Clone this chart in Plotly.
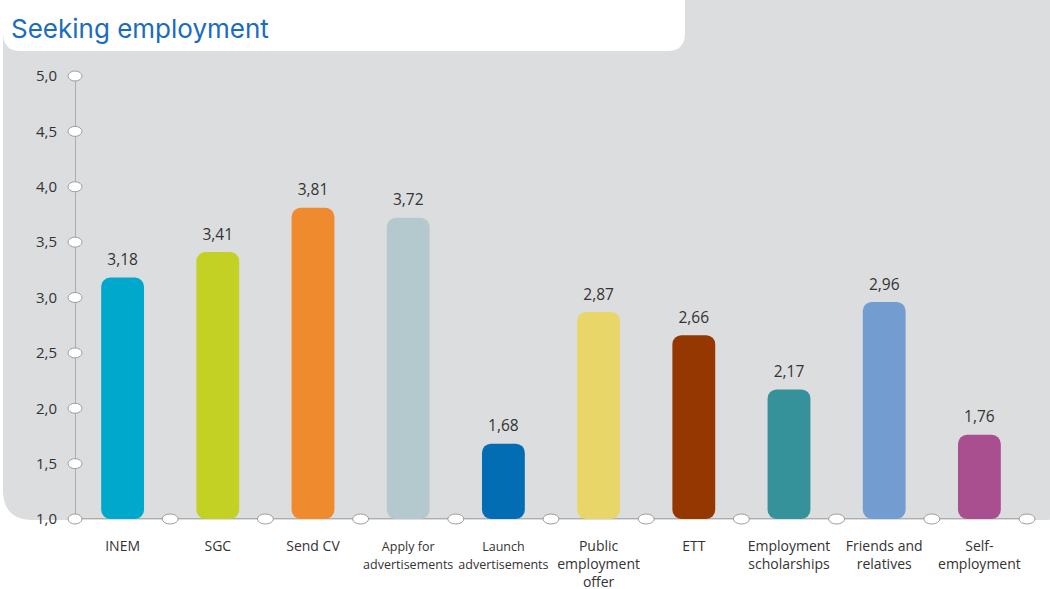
import plotly.graph_objects as go

categories = ["INEM", "SGC", "Send CV", "Apply for advertisements", "Launch advertisements",
              "Public employment offer", "ETT", "Employment scholarships",
              "Friends and relatives", "Self-employment"]
tick_labels = ["INEM", "SGC", "Send CV",
               "<span style='font-size:12.5px'>Apply for<br>advertisements</span>",
               "<span style='font-size:12.5px'>Launch<br>advertisements</span>",
               "Public<br>employment<br>offer", "ETT", "Employment<br>scholarships",
               "Friends and<br>relatives", "Self-<br>employment"]
values = [3.18, 3.41, 3.81, 3.72, 1.68, 2.87, 2.66, 2.17, 2.96, 1.76]
colors = ["#00a9cc", "#c3d124", "#ef8a2f", "#b4c9ce", "#036db4",
          "#e8d669", "#943700", "#35929a", "#739cd1", "#a94e8e"]
y_ticks = [1.0, 1.5, 2.0, 2.5, 3.0, 3.5, 4.0, 4.5, 5.0]
y_tick_text = ["1,0", "1,5", "2,0", "2,5", "3,0", "3,5", "4,0", "4,5", "5,0"]
title_text = "Seeking employment"

W, H = 1050, 589
L, R, T, B = 75, 23, 76, 70
PW, PH = W - L - R, H - T - B

def px_x(p):
    return (p - L) / PW

def px_y(p):
    return (H - B - p) / PH

def rounded_path(x0, y0, x1, y1, r_tl, r_tr, r_br, r_bl):
    def P(x, y):
        return f"{px_x(x):.5f},{px_y(y):.5f}"
    path = f"M {P(x0 + r_tl, y0)} L {P(x1 - r_tr, y0)} "
    path += f"Q {P(x1, y0)} {P(x1, y0 + r_tr)} " if r_tr else ""
    path += f"L {P(x1, y1 - r_br)} "
    path += f"Q {P(x1, y1)} {P(x1 - r_br, y1)} " if r_br else ""
    path += f"L {P(x0 + r_bl, y1)} "
    path += f"Q {P(x0, y1)} {P(x0, y1 - r_bl)} " if r_bl else ""
    path += f"L {P(x0, y0 + r_tl)} "
    path += f"Q {P(x0, y0)} {P(x0 + r_tl, y0)} " if r_tl else ""
    path += "Z"
    return path

n = len(categories)
ymin, ymax = y_ticks[0], y_ticks[-1]
fig = go.Figure()
fig.add_trace(go.Bar(
    x=list(range(n)), y=[v - ymin for v in values], base=ymin,
    marker=dict(color=colors, line=dict(width=0), cornerradius=9),
    width=0.45,
    hoverinfo="skip",
))
fig.add_trace(go.Scatter(
    x=list(range(n)), y=values, mode="markers+text",
    marker=dict(size=12, opacity=0),
    text=[f"{v:.2f}".replace(".", ",") for v in values],
    textposition="top center",
    textfont=dict(size=15.5, color="#333333", family="Open Sans, sans-serif"),
    cliponaxis=False, hoverinfo="skip",
))

shapes = []
shapes.append(dict(type="path", xref="paper", yref="paper", layer="below",
                   path=rounded_path(3, -20, 1075, 520, 0, 0, 30, 30),
                   fillcolor="#dcdddf", line=dict(width=0)))
shapes.append(dict(type="path", xref="paper", yref="paper", layer="below",
                   path=rounded_path(3, -20, 685, 51, 0, 18, 18, 18),
                   fillcolor="#ffffff", line=dict(width=0)))
shapes.append(dict(type="line", xref="x", yref="y", x0=-0.5, x1=-0.5, y0=ymin, y1=ymax,
                   line=dict(color="#9d9d9f", width=1.5), layer="below"))
shapes.append(dict(type="line", xref="x", yref="y", x0=-0.5, x1=n - 0.5, y0=ymin, y1=ymin,
                   line=dict(color="#9d9d9f", width=1.5), layer="below"))
oval = dict(fillcolor="#ffffff", line=dict(color="#9d9d9f", width=1))
for yv in y_ticks:
    shapes.append(dict(type="circle", xref="paper", yref="paper", xsizemode="pixel", ysizemode="pixel",
                       xanchor=0, yanchor=(yv - ymin) / (ymax - ymin),
                       x0=-7, x1=7, y0=-5, y1=5, layer="above", **oval))
for i in range(1, n + 1):
    shapes.append(dict(type="circle", xref="paper", yref="paper", xsizemode="pixel", ysizemode="pixel",
                       xanchor=i / n, yanchor=0, x0=-8, x1=8, y0=-5, y1=5, layer="above", **oval))

fig.update_layout(
    width=W, height=H,
    margin=dict(l=L, r=R, t=T, b=B, autoexpand=False),
    paper_bgcolor="#ffffff", plot_bgcolor="rgba(0,0,0,0)",
    showlegend=False,
    shapes=shapes,
    font=dict(family="Open Sans, sans-serif", color="#333333"),
    annotations=[dict(text=title_text, xref="paper", yref="paper",
                      x=px_x(9), y=px_y(28), xanchor="left", yanchor="middle",
                      showarrow=False,
                      font=dict(family="Inter, sans-serif", size=26, color="#1a6cc0"))],
    xaxis=dict(range=[-0.5, n - 0.5], tickvals=list(range(n)), ticktext=tick_labels,
               showgrid=False, zeroline=False, showline=False, ticks="",
               tickfont=dict(size=14, color="#333333", family="Open Sans, sans-serif"),
               ticklabelstandoff=17, fixedrange=True, automargin=False),
    yaxis=dict(range=[ymin, ymax], tickvals=y_ticks, ticktext=y_tick_text,
               showgrid=False, zeroline=False, showline=False, ticks="",
               tickfont=dict(size=15, color="#333333", family="Open Sans, sans-serif"),
               ticklabelstandoff=17, fixedrange=True, automargin=False),
)

fig.write_html("out.html", config={"displayModeBar": False},
               post_script="document.body.style.margin='0';document.body.style.overflow='hidden';")
